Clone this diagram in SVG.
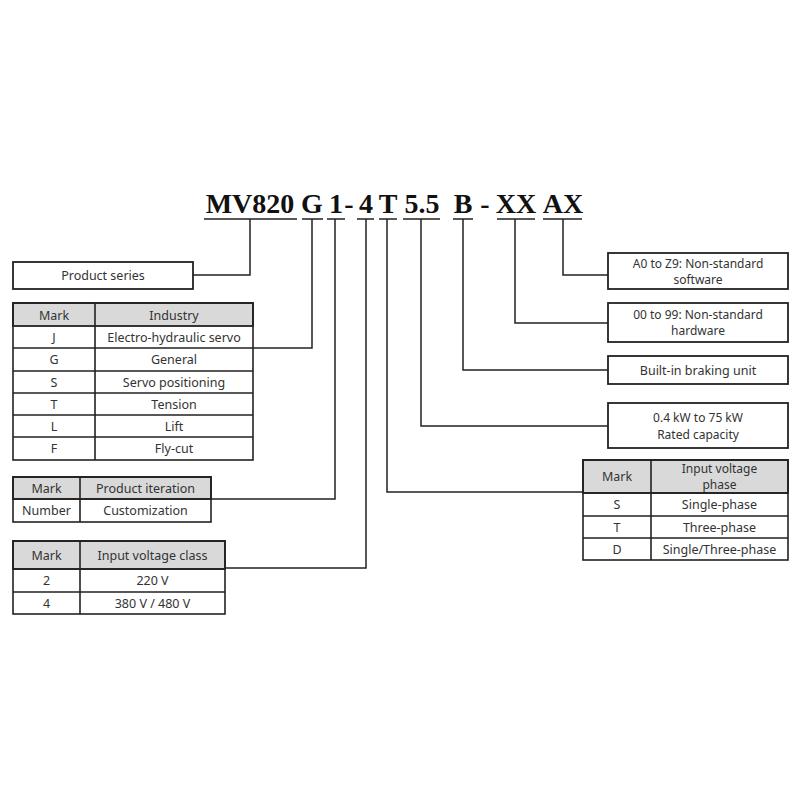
<svg xmlns="http://www.w3.org/2000/svg" width="800" height="800" viewBox="0 0 800 800">
<style>
.code{font-family:"Liberation Serif",serif;font-weight:bold;font-size:28px;fill:#111;text-anchor:middle}
.t{font-family:"Noto Sans","Liberation Sans",sans-serif;font-size:12.5px;fill:#333;text-anchor:middle;dominant-baseline:central}
.t2{font-size:12px}
.box{fill:#fff;stroke:#222;stroke-width:1.8}
.hdr{fill:#d9d9d9;stroke:#222;stroke-width:1.8}
.grid{stroke:#222;stroke-width:1.6;fill:none}
.ln{stroke:#222;stroke-width:1.5;fill:none}
</style>
<rect width="800" height="800" fill="#fff"/>
<g id="code">
<text class="code" x="250" y="213">MV820</text>
<text class="code" x="312" y="213">G</text>
<text class="code" x="336" y="213">1</text>
<text class="code" x="349" y="213">-</text>
<text class="code" x="366" y="213">4</text>
<text class="code" x="388" y="213">T</text>
<text class="code" x="422" y="213">5.5</text>
<text class="code" x="463" y="213">B</text>
<text class="code" x="485" y="213">-</text>
<text class="code" x="516" y="213">XX</text>
<text class="code" x="563" y="213">AX</text>
</g>
<g id="connectors">
<path class="ln" d="M204 219H297 M302 219H323 M327 219H345 M357 219H374 M379 219H397 M403 219H440 M453 219H473 M497 219H535 M543 219H582"/>
<path class="ln" d="M193 275H250V219"/>
<path class="ln" d="M253 348H312V219"/>
<path class="ln" d="M211 499H335V219"/>
<path class="ln" d="M225 568H366V219"/>
<path class="ln" d="M583 492H387V219"/>
<path class="ln" d="M608 426H421V219"/>
<path class="ln" d="M608 370H463V219"/>
<path class="ln" d="M608 323H515V219"/>
<path class="ln" d="M608 275H563V219"/>
</g>
<g id="product-series">
<rect class="box" x="13" y="262" width="180" height="27"/>
<text class="t" x="103" y="275.5">Product series</text>
</g>
<g id="industry-table">
<rect class="hdr" x="13" y="303" width="240" height="23"/>
<rect class="grid" x="13" y="303" width="240" height="157"/>
<path class="grid" d="M95 303V460 M13 348H253 M13 371H253 M13 393H253 M13 415H253 M13 437H253"/>
<text class="t" x="54" y="315">Mark</text><text class="t" x="174" y="315">Industry</text>
<text class="t" x="54" y="337">J</text><text class="t" x="174" y="337">Electro-hydraulic servo</text>
<text class="t" x="54" y="359.5">G</text><text class="t" x="174" y="359.5">General</text>
<text class="t" x="54" y="382">S</text><text class="t" x="174" y="382">Servo positioning</text>
<text class="t" x="54" y="404">T</text><text class="t" x="174" y="404">Tension</text>
<text class="t" x="54" y="426">L</text><text class="t" x="174" y="426">Lift</text>
<text class="t" x="54" y="448.5">F</text><text class="t" x="174" y="448.5">Fly-cut</text>
</g>
<g id="iteration-table">
<rect class="hdr" x="13" y="477" width="198" height="22"/>
<rect class="grid" x="13" y="477" width="198" height="45"/>
<path class="grid" d="M80 477V522 M13 499H211"/>
<text class="t" x="46.5" y="488">Mark</text><text class="t" x="145.5" y="488">Product iteration</text>
<text class="t" x="46.5" y="510.5">Number</text><text class="t" x="145.5" y="510.5">Customization</text>
</g>
<g id="voltage-class-table">
<rect class="hdr" x="13" y="541" width="212" height="28"/>
<rect class="grid" x="13" y="541" width="212" height="73"/>
<path class="grid" d="M80 541V614 M13 569H225 M13 592H225"/>
<text class="t" x="46.5" y="555">Mark</text><text class="t" x="152.5" y="555">Input voltage class</text>
<text class="t" x="46.5" y="580.5">2</text><text class="t" x="152.5" y="580.5">220 V</text>
<text class="t" x="46.5" y="603">4</text><text class="t" x="152.5" y="603">380 V / 480 V</text>
</g>
<g id="software-box">
<rect class="box" x="608" y="253" width="180" height="36"/>
<text class="t t2" x="698" y="263.5">A0 to Z9: Non-standard</text>
<text class="t t2" x="698" y="279.5">software</text>
</g>
<g id="hardware-box">
<rect class="box" x="608" y="303" width="180" height="39"/>
<text class="t t2" x="698" y="314.5">00 to 99: Non-standard</text>
<text class="t t2" x="698" y="330.5">hardware</text>
</g>
<g id="braking-box">
<rect class="box" x="608" y="356" width="180" height="28"/>
<text class="t" x="698" y="370">Built-in braking unit</text>
</g>
<g id="capacity-box">
<rect class="box" x="608" y="403" width="180" height="45"/>
<text class="t t2" x="698" y="417.5">0.4 kW to 75 kW</text>
<text class="t t2" x="698" y="434">Rated capacity</text>
</g>
<g id="phase-table">
<rect class="hdr" x="583" y="460" width="205" height="33"/>
<rect class="grid" x="583" y="460" width="205" height="100"/>
<path class="grid" d="M651 460V560 M583 493H788 M583 516H788 M583 538H788"/>
<text class="t" x="617" y="476.5">Mark</text>
<text class="t t2" x="719.5" y="468.5">Input voltage</text>
<text class="t t2" x="719.5" y="484.5">phase</text>
<text class="t" x="617" y="504.5">S</text><text class="t" x="719.5" y="504.5">Single-phase</text>
<text class="t" x="617" y="527">T</text><text class="t" x="719.5" y="527">Three-phase</text>
<text class="t" x="617" y="549">D</text><text class="t" x="719.5" y="549">Single/Three-phase</text>
</g>
</svg>
